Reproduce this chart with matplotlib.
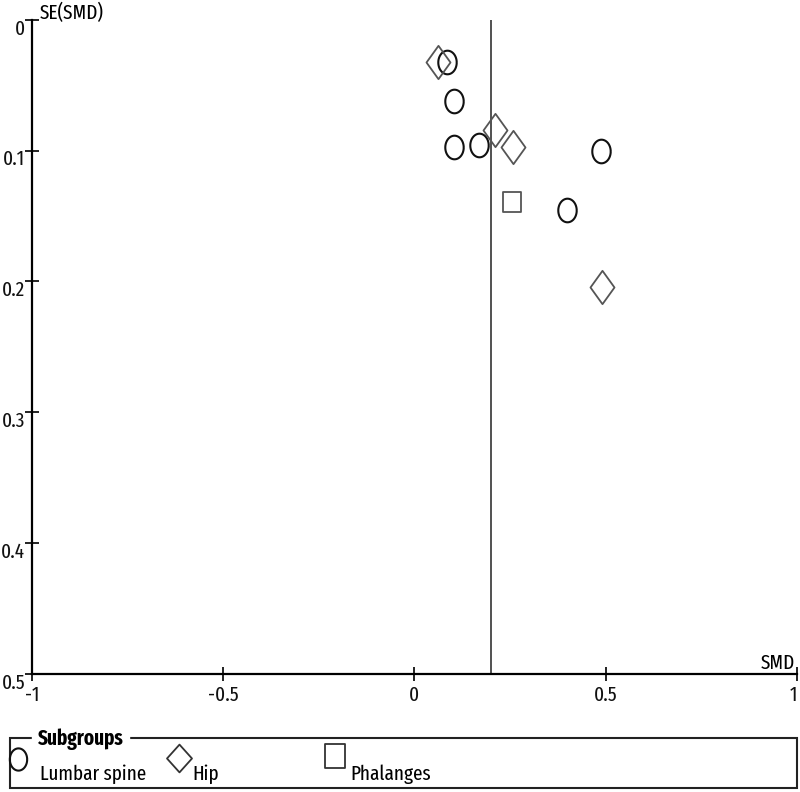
import numpy as np
import matplotlib.pyplot as plt
import matplotlib.transforms as mtransforms
from matplotlib.path import Path
from matplotlib.patches import Rectangle

plt.rcParams['font.family'] = ['Fira Sans Extra Condensed', 'Roboto Condensed', 'DejaVu Sans']

# study points (SMD, SE(SMD))
lumbar_smd = [0.085, 0.103, 0.103, 0.169, 0.487, 0.400]
lumbar_se = [0.032, 0.062, 0.097, 0.096, 0.100, 0.145]
hip_smd = [0.063, 0.212, 0.259, 0.491]
hip_se = [0.032, 0.084, 0.097, 0.204]
phal_smd = [0.256]
phal_se = [0.139]
pooled_smd = 0.2

xticks = [-1, -0.5, 0, 0.5, 1]
xtick_labels = ['-1', '-0.5', '0', '0.5', '1']
yticks = [0, 0.1, 0.2, 0.3, 0.4, 0.5]
ytick_labels = ['0', '0.1', '0.2', '0.3', '0.4', '0.5']

# custom markers: slightly tall ellipse, diamond, tall square
t = np.linspace(0, 2 * np.pi, 60)
ellipse = Path(np.column_stack([0.78 * np.cos(t), np.sin(t)]))
diamond = Path([(0, 1), (0.72, 0), (0, -1), (-0.72, 0), (0, 1)], closed=True)
diamond_leg = Path([(0, 1), (0.9, 0), (0, -1), (-0.9, 0), (0, 1)], closed=True)
square = Path([(-0.85, -1), (0.85, -1), (0.85, 1), (-0.85, 1), (-0.85, -1)], closed=True)

FS = 15
W, H = 800, 792

fig = plt.figure(figsize=(8, 7.92), dpi=100)
ax = fig.add_axes([0.04, 0.149, 0.956, 0.826])

ax.axvline(pooled_smd, color='#333333', lw=1.2)

ax.plot(lumbar_smd, lumbar_se, ls='none', marker=ellipse, ms=17, mfc='none',
        mec='#111111', mew=1.5)
ax.plot(hip_smd, hip_se, ls='none', marker=diamond, ms=24, mfc='none',
        mec='#555555', mew=1.3)
ax.plot(phal_smd, phal_se, ls='none', marker=square, ms=15, mfc='none',
        mec='#555555', mew=1.3)

ax.set_xlim(-1, 1)
ax.set_ylim(0.5, 0)
ax.spines['top'].set_visible(False)
ax.spines['right'].set_visible(False)
ax.spines['left'].set_linewidth(1.6)
ax.spines['bottom'].set_linewidth(1.6)
ax.set_xticks(xticks)
ax.set_xticklabels(xtick_labels)
ax.set_yticks(yticks)
ax.set_yticklabels(ytick_labels)
ax.tick_params(direction='inout', length=10, width=1.3, labelsize=FS, colors='#111111')
ax.tick_params(axis='x', pad=3)
ax.tick_params(axis='y', pad=0)

# y labels sit a little below their ticks in the original
shift = mtransforms.ScaledTranslation(0, -5 / 72, fig.dpi_scale_trans)
for lab in ax.get_yticklabels():
    lab.set_transform(lab.get_transform() + shift)
ax.get_xticklabels()[-1].set_horizontalalignment('right')

fig.text(40 / W, 1 - 19 / H, 'SE(SMD)', fontsize=FS, ha='left', va='baseline')
fig.text(795 / W, 1 - 669 / H, 'SMD', fontsize=FS, ha='right', va='baseline')

# legend box drawn by hand, title sitting on the top border
fig.patches.append(Rectangle((9.5 / W, 1 - 788 / H), 787.5 / W, 50 / H,
                             transform=fig.transFigure, fill=False,
                             ec='#222222', lw=1.5))
fig.text(38 / W, 1 - 739 / H, 'Subgroups', fontsize=FS, fontweight='bold',
         ha='left', va='center', backgroundcolor='white')

fig.lines.append(plt.Line2D([18 / W], [1 - 759 / H], transform=fig.transFigure,
                            marker=ellipse, ms=16, mfc='none', mec='#111111',
                            mew=1.5, ls='none'))
fig.text(40 / W, 1 - 780 / H, 'Lumbar spine', fontsize=FS, ha='left', va='baseline')
fig.lines.append(plt.Line2D([179 / W], [1 - 758 / H], transform=fig.transFigure,
                            marker=diamond_leg, ms=20, mfc='none', mec='#333333',
                            mew=1.3, ls='none'))
fig.text(192 / W, 1 - 780 / H, 'Hip', fontsize=FS, ha='left', va='baseline')
fig.lines.append(plt.Line2D([335 / W], [1 - 756 / H], transform=fig.transFigure,
                            marker=square, ms=17, mfc='none', mec='#333333',
                            mew=1.3, ls='none'))
fig.text(350 / W, 1 - 780 / H, 'Phalanges', fontsize=FS, ha='left', va='baseline')

fig.savefig('out.png', dpi=100)
